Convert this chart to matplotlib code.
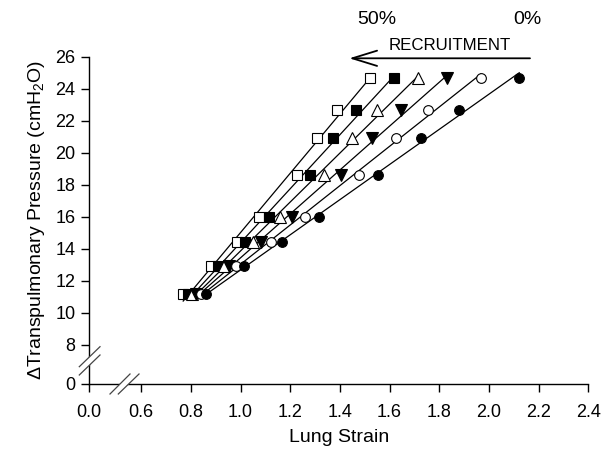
import numpy as np
import matplotlib
matplotlib.use("Agg")
import matplotlib.pyplot as plt
from matplotlib.patches import Polygon
from matplotlib.lines import Line2D

plt.rcParams['font.family'] = ['Liberation Sans', 'DejaVu Sans']
plt.rcParams['mathtext.fontset'] = 'custom'
plt.rcParams['mathtext.rm'] = 'Liberation Sans'
plt.rcParams['mathtext.it'] = 'Liberation Sans:italic'

# ---- data ----
pressure = [11.2, 12.9, 14.4, 16.0, 18.6, 20.9, 22.7, 24.7]
strain_sq_open = [0.769, 0.880, 0.984, 1.074, 1.226, 1.306, 1.387, 1.521]
strain_sq_fill = [0.789, 0.908, 1.018, 1.113, 1.279, 1.373, 1.463, 1.618]
strain_tri_open = [0.803, 0.934, 1.049, 1.159, 1.336, 1.447, 1.548, 1.716]
strain_tri_fill = [0.820, 0.954, 1.081, 1.207, 1.404, 1.528, 1.645, 1.832]
strain_circ_open = [0.840, 0.981, 1.121, 1.259, 1.476, 1.625, 1.753, 1.967]
strain_circ_fill = [0.861, 1.014, 1.165, 1.316, 1.554, 1.725, 1.881, 2.122]

x_ticks = [0.0, 0.6, 0.8, 1.0, 1.2, 1.4, 1.6, 1.8, 2.0, 2.2, 2.4]
y_ticks = [0, 8, 10, 12, 14, 16, 18, 20, 22, 24, 26]

series = [
    (strain_sq_open, 's', 'white'),
    (strain_sq_fill, 's', 'black'),
    (strain_tri_open, '^', 'white'),
    (strain_tri_fill, 'v', 'black'),
    (strain_circ_open, 'o', 'white'),
    (strain_circ_fill, 'o', 'black'),
]

# ---- broken-axis scales ----
XB, XW = 0.6, 0.209
def xf(x):
    x = np.asarray(x, dtype=float)
    return np.where(x >= XB, x, XB - XW * (XB - x) / XB)
def xi(u):
    u = np.asarray(u, dtype=float)
    return np.where(u >= XB, u, XB - (XB - u) * XB / XW)

YB, YW = 8.0, 2.44
def yf(y):
    y = np.asarray(y, dtype=float)
    return np.where(y >= YB, y, YB - YW * (YB - y) / YB)
def yi(u):
    u = np.asarray(u, dtype=float)
    return np.where(u >= YB, u, YB - (YB - u) * YB / YW)

W, H = 603, 454
fig = plt.figure(figsize=(W / 100, H / 100), dpi=100)
ax = fig.add_axes([89.3 / W, 1 - 384 / H, (588.3 - 89.3) / W, (384 - 56.7) / H])
ax.set_xscale('function', functions=(xf, xi))
ax.set_yscale('function', functions=(yf, yi))

for xs, m, fc in series:
    xs = np.array(xs)
    ys = np.array(pressure)
    k, b = np.polyfit(xs, ys, 1)
    xl = np.array([xs.min(), xs.max()])
    ax.plot(xl, k * xl + b, color='black', lw=0.9, zorder=2)
    ms = 8 if m in ('^', 'v') else 7
    ax.plot(xs, ys, linestyle='none', marker=m, ms=ms, mfc=fc, mec='black',
            mew=0.8, zorder=3, clip_on=False)

ax.set_xlim(0, 2.4)
ax.set_ylim(0, 26)
ax.set_xticks(x_ticks)
ax.set_xticklabels([f"{v:.1f}" for v in x_ticks])
ax.set_yticks(y_ticks)
ax.set_yticklabels([str(v) for v in y_ticks])
ax.minorticks_off()
ax.tick_params(direction='out', length=6, width=1, labelsize=13, color='black')
ax.tick_params(axis='x', pad=8.5)
ax.tick_params(axis='y', pad=4)
for s in ['top', 'right']:
    ax.spines[s].set_visible(False)
for s in ['left', 'bottom']:
    ax.spines[s].set_linewidth(1)

ax.set_xlabel('Lung Strain', fontsize=14, labelpad=6)
ax.set_ylabel(r'$\Delta$Transpulmonary Pressure (cmH$_2$O)', fontsize=14, labelpad=6)

def P(px, py):
    return (px / W, 1 - py / H)

# break marks
def brk(p1a, p1b, p2a, p2b):
    poly = Polygon([P(*p1a), P(*p1b), P(*p2b), P(*p2a)], closed=True,
                   transform=fig.transFigure, facecolor='white', edgecolor='none', zorder=10)
    fig.add_artist(poly)
    for a, bb in [(p1a, p1b), (p2a, p2b)]:
        pa, pb = P(*a), P(*bb)
        fig.add_artist(Line2D([pa[0], pb[0]], [pa[1], pb[1]], transform=fig.transFigure,
                              color='#444444', lw=0.9, zorder=11))

brk((79.3, 366.7), (100, 346.7), (79.3, 375), (100, 355))
brk((110, 394), (130, 374), (118.3, 394), (139, 374))

# annotations
fig.text(*P(376.7, 20), '50%', fontsize=14, ha='center', va='center')
fig.text(*P(527.7, 20), '0%', fontsize=14, ha='center', va='center')
fig.text(*P(450, 45), 'RECRUITMENT', fontsize=12.2, ha='center', va='center')
ax.annotate('', xy=P(349.3, 58.3), xytext=P(530, 58.3), xycoords='figure fraction',
            textcoords='figure fraction',
            arrowprops=dict(arrowstyle='->,head_length=1.78,head_width=0.55',
                            color='black', lw=1.3, shrinkA=0, shrinkB=0, mutation_scale=10))

fig.savefig('out.png', dpi=100)
